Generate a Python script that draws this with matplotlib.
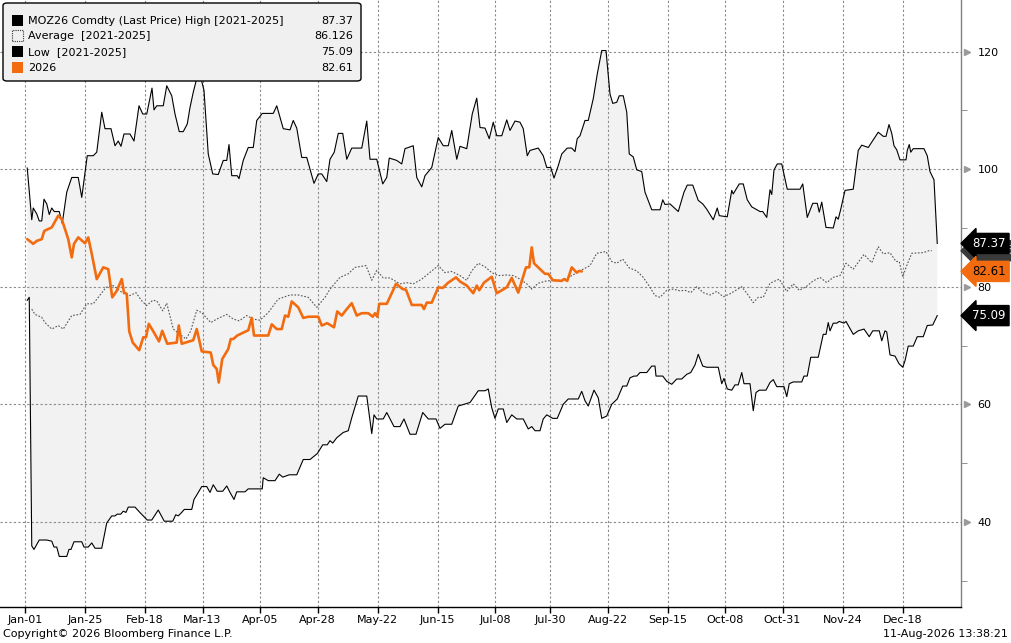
import datetime as dt
import numpy as np
import matplotlib
matplotlib.use("Agg")
import matplotlib.pyplot as plt
import matplotlib.transforms as mtransforms
from matplotlib.patches import FancyBboxPatch, Rectangle

# day of year (0 = Jan-01), value
high = np.array([
    (0.9, 100.2), (2.7, 91.4), (3.3, 93.4), (4.7, 92.4), (5.7, 91.2), (6.7, 91.2), (7.6, 94.9), (8.7, 94.1),
    (9.7, 92.3), (10.7, 93.4), (11.7, 92.8), (13.7, 92.8), (14.9, 90.8), (16.7, 96.1), (18.7, 98.6), (21.3, 98.6),
    (22.7, 95.2), (24.9, 102.3), (27.3, 102.3), (28.7, 102.9), (30.7, 109.7), (32, 106.9), (34.4, 106.9), (36, 104.0),
    (37.3, 104.8), (38.4, 103.9), (39.6, 106.0), (42, 106.0), (43.6, 104.8), (45.6, 110.8), (47.1, 109.4), (48.7, 109.4),
    (50.8, 113.8), (51.6, 110.1), (52.7, 110.8), (55.3, 110.8), (56.7, 114.2), (58.7, 112.5), (60, 109.4), (61.7, 106.4),
    (63.3, 106.4), (64.9, 107.7), (66, 110.5), (67.3, 113.1), (69.2, 116.3), (70.4, 115.5), (71.6, 113.4), (73.3, 102.6),
    (75.1, 99.2), (77.3, 99.1), (79.3, 101.5), (80.7, 101.5), (81.6, 104.2), (82.7, 98.9), (84.9, 98.9), (85.6, 98.4),
    (87.3, 101.5), (89.3, 103.7), (91.3, 103.7), (92.7, 108.3), (94.9, 109.5), (99.3, 109.5), (100.7, 110.8), (103.3, 106.9),
    (106, 106.7), (107.3, 108.3), (108.7, 107.0), (110.7, 102.0), (112.7, 102.0), (115.6, 97.6), (117.3, 99.2), (118.7, 99.2),
    (120.7, 97.9), (122, 101.7), (123.7, 102.9), (125.3, 106.1), (127.1, 106.1), (128.7, 101.7), (130.7, 103.6), (134.7, 103.6),
    (136.7, 108.2), (138, 101.7), (140.7, 101.7), (143.1, 97.5), (144.7, 98.6), (145.7, 101.9), (148.7, 101.5), (150.7, 100.9),
    (152, 103.5), (155.3, 104.0), (156.7, 98.6), (158.7, 97.0), (160, 98.9), (162.7, 100.3), (165.3, 105.4), (167.3, 104.0),
    (169.3, 104.0), (170.7, 106.6), (172.7, 101.7), (174, 103.9), (176.7, 103.5), (178.9, 109.4), (180.7, 112.1), (182, 107.1),
    (184, 107.0), (185.7, 105.2), (187.3, 108.0), (188.7, 105.7), (190.7, 105.7), (192.7, 108.4), (194, 106.6), (196, 108.2),
    (198, 108.0), (199.3, 106.9), (200.9, 102.3), (202, 103.2), (205.3, 103.6), (207.3, 102.3), (208.7, 100.3), (210.3, 100.3),
    (211.6, 98.5), (213.3, 100.6), (214.7, 102.6), (216.9, 103.6), (218.7, 103.6), (220, 103.0), (220.9, 105.2), (222, 105.7),
    (224, 108.3), (225.3, 108.3), (227.3, 112.0), (228.9, 116.2), (230.7, 120.2), (232.4, 120.2), (234, 112.8), (235.1, 111.2),
    (236.7, 111.4), (237.7, 112.5), (239.3, 112.5), (240.7, 109.7), (241.7, 102.6), (243.3, 102.1), (244.7, 99.9), (246.7, 99.6),
    (248, 96.1), (250.7, 93.1), (254, 93.1), (255.1, 94.8), (256, 94.0), (258, 94.1), (261.3, 92.8), (263.6, 96.1),
    (264.9, 97.3), (267.1, 97.3), (269.3, 94.7), (271.1, 94.1), (272.7, 93.2), (275.3, 91.4), (276.9, 93.4), (277.7, 92.1),
    (280.9, 91.9), (282.7, 96.4), (283.3, 95.8), (285.7, 97.5), (287.3, 97.5), (288.9, 94.8), (290.7, 93.6), (294, 92.8),
    (295.1, 92.8), (296.7, 91.8), (298, 96.5), (298.7, 95.7), (299.6, 99.9), (300.9, 100.9), (302.7, 100.9), (304.9, 96.6),
    (310, 96.6), (311.1, 97.5), (312.9, 91.8), (315.1, 94.2), (316.9, 94.2), (317.7, 92.7), (318.7, 94.4), (320.4, 90.1),
    (323.3, 90.0), (324.4, 91.9), (325.3, 91.5), (326.3, 93.2), (328, 96.4), (331.3, 96.6), (333.3, 103.2), (334.7, 104.1),
    (337.3, 103.7), (339.3, 105.0), (341.3, 106.3), (343.3, 105.6), (344.4, 105.6), (345.6, 107.6), (346.7, 106.1), (347.6, 104.0),
    (348.7, 103.3), (350, 101.6), (352.4, 101.6), (352.9, 103.2), (353.7, 104.2), (354.3, 102.9), (355.3, 103.5), (359.6, 103.5),
    (360.9, 102.3), (362, 99.6), (363.6, 98.2), (364.9, 87.37),
])

low = np.array([
    (0.9, 77.7), (1.7, 78.2), (2.7, 35.9), (3.6, 35.3), (5.7, 36.9), (8.7, 36.9), (10.7, 36.7), (11.6, 35.7),
    (12.7, 35.7), (13.7, 34.1), (16.7, 34.1), (17.6, 35.3), (18.4, 35.3), (19.6, 36.6), (22.7, 36.6), (23.6, 35.7),
    (25.3, 35.7), (26.7, 36.4), (28, 35.5), (30.7, 35.5), (32.7, 39.8), (34.7, 41.0), (36, 41.0), (36.9, 41.3),
    (38.3, 41.3), (39.3, 41.8), (40.4, 41.6), (41.3, 42.5), (44, 42.5), (45.7, 41.7), (47.3, 41.0), (48.9, 40.3),
    (50.7, 40.3), (53.3, 42.0), (55.7, 40.1), (59.1, 40.1), (60.3, 41.2), (61.3, 41.0), (62.7, 41.6), (63.7, 42.1),
    (66.7, 42.1), (67.6, 43.8), (68.9, 44.7), (70.7, 46.0), (72.7, 46.0), (74, 45.0), (75.3, 46.3), (76.9, 45.2),
    (79.1, 45.2), (80.7, 46.1), (82, 45.0), (83.6, 43.8), (84.7, 45.1), (88, 45.1), (89.3, 45.6), (94.9, 45.6),
    (95.3, 47.5), (97.3, 47.0), (100, 47.0), (101.7, 48.1), (103.1, 47.6), (105.7, 48.0), (108.7, 48.0), (111.3, 50.6),
    (114, 50.6), (116.9, 51.6), (119.1, 53.1), (120.9, 53.1), (122, 53.8), (123.1, 53.4), (124.7, 54.3), (127.3, 55.2),
    (129.3, 55.5), (130.7, 57.7), (133.3, 61.4), (136.7, 61.4), (138.7, 55.0), (139.6, 58.2), (140.7, 57.5), (143.3, 57.5),
    (144.7, 58.6), (147.6, 56.2), (150, 56.2), (151.6, 57.5), (154, 54.9), (156.4, 54.9), (159.1, 58.6), (161.3, 57.5),
    (164.4, 57.5), (166, 55.9), (168, 56.6), (170.7, 56.6), (173.3, 59.7), (178, 60.3), (181.3, 62.3), (184, 62.3),
    (185.3, 62.6), (186.7, 59.4), (188, 57.6), (189.3, 59.2), (191.3, 59.2), (192.7, 56.9), (194.7, 58.2), (196.7, 57.5),
    (199.3, 57.5), (201.3, 55.8), (202.7, 56.2), (204, 55.5), (206, 55.5), (207.3, 57.5), (208.7, 58.2), (211.1, 57.6),
    (212.9, 57.6), (215.3, 60.0), (217.3, 60.9), (221.3, 60.9), (222.7, 62.2), (224, 60.6), (225.3, 59.7), (227.6, 62.4),
    (229.3, 61.1), (230.7, 57.6), (232.7, 58.0), (234.7, 60.0), (236.9, 60.9), (239.1, 63.1), (240.7, 63.1), (242, 64.5),
    (243.6, 64.8), (244.7, 64.8), (246, 65.4), (248.7, 65.4), (250.7, 66.5), (252, 66.5), (252.4, 64.8), (255.1, 64.8),
    (256.7, 63.9), (258.7, 63.4), (260.7, 64.3), (262.7, 64.3), (264.7, 65.1), (266.3, 65.4), (268, 66.7), (269.3, 68.5),
    (271.1, 66.5), (272.7, 66.3), (277.3, 66.3), (278.7, 63.5), (279.6, 64.4), (280.9, 62.6), (282.7, 62.4), (284, 63.3),
    (285.3, 63.3), (286.7, 65.4), (287.6, 63.5), (290, 63.5), (291.3, 58.9), (292.4, 62.0), (293.7, 62.4), (296.4, 62.4),
    (298, 63.7), (299.3, 64.2), (300.7, 63.0), (303.6, 63.0), (304.7, 61.3), (305.7, 63.5), (307.3, 63.8), (310.7, 63.8),
    (311.6, 64.8), (312.9, 64.8), (314.3, 68.0), (317.3, 68.0), (319.3, 71.9), (320.4, 71.9), (321.3, 73.9), (322, 72.5),
    (323.3, 73.8), (324.7, 73.8), (325.7, 74.1), (327.6, 73.8), (328.4, 74.1), (331.3, 71.9), (333.3, 72.5), (335.6, 72.8),
    (337.7, 71.5), (339.1, 72.5), (341.7, 72.5), (342.7, 70.8), (344, 72.5), (344.7, 72.3), (346, 68.4), (348, 68.2),
    (349.6, 66.9), (351.1, 66.3), (352, 67.4), (353.3, 69.9), (355.3, 69.9), (356.9, 71.5), (359.3, 71.5), (360.9, 73.4),
    (363.1, 73.5), (364.9, 75.09),
])

average = np.array([
    (2.7, 76.2), (4, 75.3), (6.7, 74.8), (8, 73.9), (10.7, 72.8), (13.3, 73.4), (15.3, 72.8), (18.7, 75.1),
    (22, 75.3), (24.7, 77.1), (27.3, 77.1), (32.4, 79.9), (35.3, 80.2), (38, 79.3), (39.6, 78.8), (42, 78.5),
    (44.4, 79.0), (46.7, 77.6), (48.7, 76.8), (51.1, 77.7), (52.7, 77.6), (55.1, 75.9), (56.7, 77.2), (59.3, 72.8),
    (62, 71.9), (64.4, 71.1), (66.3, 72.5), (68.7, 76.0), (70.7, 75.6), (74.3, 73.9), (76.7, 74.5), (80.7, 75.3),
    (83.3, 74.5), (85.7, 74.2), (88.7, 75.1), (91.3, 74.5), (94, 74.3), (97.3, 75.6), (101.3, 77.9), (106, 78.6),
    (109.3, 78.6), (113.3, 78.2), (116.7, 76.5), (120, 78.2), (122, 79.6), (126, 81.6), (129.3, 82.2), (132, 83.3),
    (136.4, 83.6), (138.7, 81.1), (140.7, 82.8), (143.3, 81.5), (146, 81.5), (150, 80.5), (152.7, 80.7), (155.3, 80.5),
    (158.7, 81.3), (162.7, 82.7), (165.3, 83.6), (168, 82.4), (170.7, 82.6), (174, 81.9), (176.7, 81.1), (178.7, 82.7),
    (181.3, 84.0), (184, 83.4), (186.7, 82.4), (189.3, 81.9), (192.7, 82.0), (195.3, 81.9), (198, 81.3), (200.7, 80.5),
    (202.7, 79.6), (205.3, 80.6), (208.7, 81.0), (212, 81.1), (215.3, 81.1), (218.7, 81.9), (222, 82.7), (226, 83.6),
    (228.7, 85.7), (232.4, 86.0), (234.7, 84.3), (236.7, 84.0), (239.1, 84.7), (241.7, 83.2), (244.7, 82.7), (247.3, 81.6),
    (250, 79.9), (252, 78.5), (254, 78.2), (256.7, 79.4), (259.3, 79.6), (262, 79.3), (264, 79.4), (266.3, 79.0),
    (268.7, 80.0), (271.3, 79.0), (274, 78.6), (276.7, 79.2), (279.3, 78.3), (282, 78.8), (286.7, 80.0), (288.9, 78.8),
    (291.3, 77.3), (293.3, 78.2), (295.3, 78.2), (298, 80.6), (301.7, 81.3), (304.7, 79.2), (307.3, 80.5), (309.7, 79.4),
    (312.4, 80.0), (315.3, 81.0), (318, 81.6), (320.7, 80.7), (323.3, 81.6), (326, 81.9), (328.4, 84.0), (331.3, 83.0),
    (335.6, 85.5), (338.7, 84.1), (341.3, 86.8), (343.3, 85.6), (346, 85.8), (348.4, 84.3), (349.7, 84.3), (351.1, 81.7),
    (352.7, 83.6), (354.7, 85.7), (359.3, 85.8), (362, 86.2), (362.7, 86.126),
])

current = np.array([
    (0.9, 88.1), (3.3, 87.3), (4.7, 87.8), (6.7, 88.1), (7.7, 89.5), (10.7, 90.1), (13.3, 92.1), (14.7, 91.5),
    (17.3, 88.1), (18.7, 85.0), (19.6, 87.3), (21.3, 88.4), (24, 87.4), (25.3, 88.4), (26.7, 85.6), (28.7, 81.3),
    (31.3, 83.3), (33.3, 83.0), (34.9, 78.2), (36.7, 79.3), (38.7, 81.3), (39.6, 79.0), (40.7, 78.8), (41.7, 72.4),
    (43.1, 70.5), (45.7, 69.2), (47.3, 71.4), (48.4, 71.4), (49.5, 73.7), (51.6, 72.2), (53.6, 70.7), (54.9, 72.5),
    (56.9, 70.3), (60.7, 70.5), (61.5, 73.4), (62.7, 70.3), (67.3, 70.9), (68.7, 72.8), (70.7, 69.0), (74.3, 68.8),
    (75.3, 66.7), (76.7, 66.0), (77.5, 63.7), (78.9, 67.7), (81.3, 69.4), (82.3, 71.1), (83.3, 71.1), (84.9, 71.7),
    (89.3, 72.6), (90.7, 74.7), (91.6, 71.7), (97.3, 71.7), (98.7, 73.6), (100.7, 72.8), (102.7, 72.8), (104, 75.1),
    (105.3, 74.9), (106.7, 77.5), (109.3, 76.5), (111.3, 74.7), (113.3, 74.9), (117.3, 74.9), (118.7, 73.4), (120.9, 73.8),
    (123.6, 73.1), (124.9, 75.8), (126.7, 75.1), (128.7, 76.2), (130.7, 77.2), (132.7, 75.1), (134.7, 75.5), (137.3, 75.5),
    (139.1, 74.9), (140, 75.5), (140.9, 74.9), (141.7, 77.1), (144.7, 77.1), (146.7, 78.9), (148.4, 80.5), (151.1, 79.6),
    (152.4, 79.5), (154.7, 76.9), (158.7, 76.9), (159.6, 76.2), (160.7, 77.3), (162.7, 77.3), (165.3, 79.9), (167.1, 79.8),
    (169.3, 80.7), (172.4, 81.6), (174, 80.9), (176.7, 80.2), (179.3, 78.9), (180.7, 80.2), (181.7, 79.4), (183.6, 80.7),
    (186.7, 81.7), (188.7, 78.9), (192.7, 79.9), (194.7, 81.5), (197.3, 79.0), (200.4, 83.3), (201.7, 83.3), (202.7, 86.7),
    (203.6, 84.0), (206, 83.0), (208, 82.2), (209.3, 82.2), (211.1, 81.1), (214.7, 81.0), (215.6, 81.3), (216.9, 81.0),
    (218.7, 83.3), (220.7, 82.4), (221.7, 82.7), (222.7, 82.61),
])

tick_dates = ["Jan-01", "Jan-25", "Feb-18", "Mar-13", "Apr-05", "Apr-28", "May-22", "Jun-15",
              "Jul-08", "Jul-30", "Aug-22", "Sep-15", "Oct-08", "Oct-31", "Nov-24", "Dec-18"]
y_ticks = [40, 60, 80, 100, 120]

legend_labels = ["MOZ26 Comdty (Last Price) High [2021-2025]", "Average  [2021-2025]",
                 "Low  [2021-2025]", "2026"]
legend_values = ["87.37", "86.126", "75.09", "82.61"]

ORANGE = "#f26b0f"
W, H = 1011, 643

fig = plt.figure(figsize=(W / 100, H / 100), dpi=100)
ax = fig.add_axes([0, 36 / H, 961 / W, 607 / H])
ax.set_xlim(-10, 374.4)
ax.set_ylim(25.5, 128.8)

# band between high and low
ax.fill(np.r_[high[:, 0], low[::-1, 0]], np.r_[high[:, 1], low[::-1, 1]],
        color="#f2f2f2", lw=0, zorder=1)
ax.plot(high[:, 0], high[:, 1], color="black", lw=0.8, zorder=3)
ax.plot(low[:, 0], low[:, 1], color="black", lw=0.8, zorder=3)
ax.plot(average[:, 0], average[:, 1], color="#555555", lw=0.8, ls=(0, (1.5, 1.5)), zorder=3)
ax.plot(current[:, 0], current[:, 1], color=ORANGE, lw=1.9, zorder=4,
        solid_joinstyle="round", solid_capstyle="round")

# x axis
base = dt.date(2026, 1, 1)
xt = [(dt.datetime.strptime(s + "-2026", "%b-%d-%Y").date() - base).days for s in tick_dates]
ax.set_xticks(xt)
ax.set_xticklabels(tick_dates, fontsize=8)
ax.tick_params(axis="x", direction="out", length=4, width=1, color="black", pad=2)

# y axis on the right
ax.yaxis.tick_right()
ax.set_yticks(y_ticks)
ax.set_yticklabels([str(v) for v in y_ticks], fontsize=8)
ax.set_yticks([30, 50, 70, 90, 110], minor=True)
ax.tick_params(axis="y", which="major", length=0, pad=12)
ax.tick_params(axis="y", which="minor", length=4, color="#808080", direction="out")
ax.tick_params(axis="x", which="minor", length=0)

ax.grid(True, which="major", color="#8a8a8a", ls=(0, (2, 2)), lw=0.8)
for s in ["left", "top"]:
    ax.spines[s].set_visible(False)
ax.spines["bottom"].set_color("black")
ax.spines["bottom"].set_linewidth(1)
ax.spines["right"].set_color("#808080")
ax.spines["right"].set_linewidth(1)

trans = mtransforms.blended_transform_factory(ax.transAxes, ax.transData)
ax.plot([1 + 6 / 961] * len(y_ticks), y_ticks, ls="none", marker=">", ms=5,
        color="#9a9a9a", transform=trans, clip_on=False)


# last value tags
def tag(val, txt, fc, tc, z):
    ax.text(1 + 11 / 961, val, txt, transform=trans, ha="left", va="center",
            fontsize=8.5, color=tc, zorder=z, clip_on=False,
            bbox=dict(boxstyle="larrow,pad=0.3", fc=fc, ec=fc))


tag(86.126, "86.126", "#3a3a3a", "#cfcfcf", 5)
tag(87.37, "87.37", "black", "white", 6)
tag(82.61, "82.61", ORANGE, "black", 6)
tag(75.09, "75.09", "black", "white", 6)

# legend box
box = FancyBboxPatch((3 / W, 1 - 81 / H), 358 / W, 78 / H,
                     boxstyle="round,pad=0,rounding_size=0.004",
                     transform=fig.transFigure, fc="#f0f0f0", ec="black", lw=1, zorder=10)
fig.add_artist(box)
rows_y = [21, 36, 52, 68]
for i, (lab, val, yy) in enumerate(zip(legend_labels, legend_values, rows_y)):
    if i == 1:
        sq = Rectangle((12 / W, 1 - (yy + 5) / H), 11 / W, 11 / H, transform=fig.transFigure,
                       fc="none", ec="#333333", lw=0.8, ls=(0, (1, 1)), zorder=11)
    else:
        sq = Rectangle((12 / W, 1 - (yy + 5) / H), 11 / W, 11 / H, transform=fig.transFigure,
                       fc=ORANGE if i == 3 else "black", ec="none", zorder=11)
    fig.add_artist(sq)
    fig.text(28 / W, 1 - yy / H, lab, fontsize=8, va="center", ha="left", zorder=12)
    fig.text(353 / W, 1 - yy / H, val, fontsize=8, va="center", ha="right", zorder=12)

# footer
fig.text(3 / W, 1 - 634 / H, "Copyright\u00a9 2026 Bloomberg Finance L.P.", fontsize=8, va="center")
fig.text(1008 / W, 1 - 634 / H, "11-Aug-2026 13:38:21", fontsize=8, va="center", ha="right")

fig.savefig("out.png", dpi=100)
